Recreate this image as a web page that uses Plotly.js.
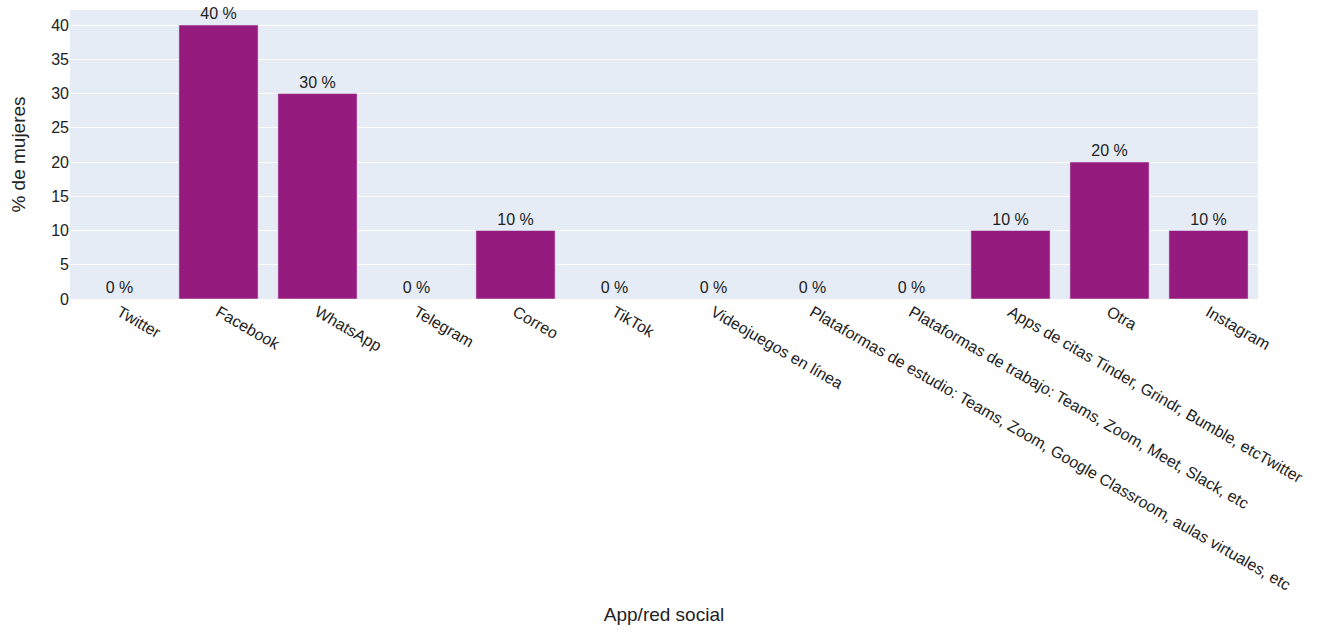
<!DOCTYPE html>
<html><head><meta charset="utf-8">
<script src="https://cdn.plot.ly/plotly-3.0.1.min.js"></script>
<style>html,body{margin:0;padding:0;}#chart{width:1320px;height:632px;}</style>
</head><body><div id="chart"></div>
<script>
const categories = ["Twitter","Facebook","WhatsApp","Telegram","Correo","TikTok","Videojuegos en línea","Plataformas de estudio: Teams, Zoom, Google Classroom, aulas virtuales, etc","Plataformas de trabajo: Teams, Zoom, Meet, Slack, etc","Apps de citas Tinder, Grindr, Bumble, etcTwitter","Otra","Instagram"];
const values = [0,40,30,0,10,0,0,0,0,10,20,10];
const labels = values.map(v => v + " %");

Plotly.newPlot('chart', [{
  type: 'bar', x: categories, y: values, text: labels, textposition: 'outside',
  cliponaxis: false,
  marker: {color: '#951b7e', line: {color: '#E5ECF6', width: 0.5}},
  textfont: {size: 16, color: '#222'}
}], {
  width: 1320, height: 632,
  margin: {l: 70, r: 62, t: 10, b: 333},
  paper_bgcolor: '#fff', plot_bgcolor: '#e5ecf6',
  font: {family: 'Liberation Sans, Arial, sans-serif', size: 16, color: '#222'},
  bargap: 0.2,
  xaxis: {title: {text: 'App/red social', font: {size: 19}, standoff: 15}, tickangle: 30, showgrid: false, automargin: true},
  yaxis: {title: {text: '% de mujeres', font: {size: 19}, standoff: 20}, range: [0, 42.2], dtick: 5, gridcolor: '#fff', zeroline: false, automargin: true},
  showlegend: false
}, {displayModeBar: false});
</script></body></html>
